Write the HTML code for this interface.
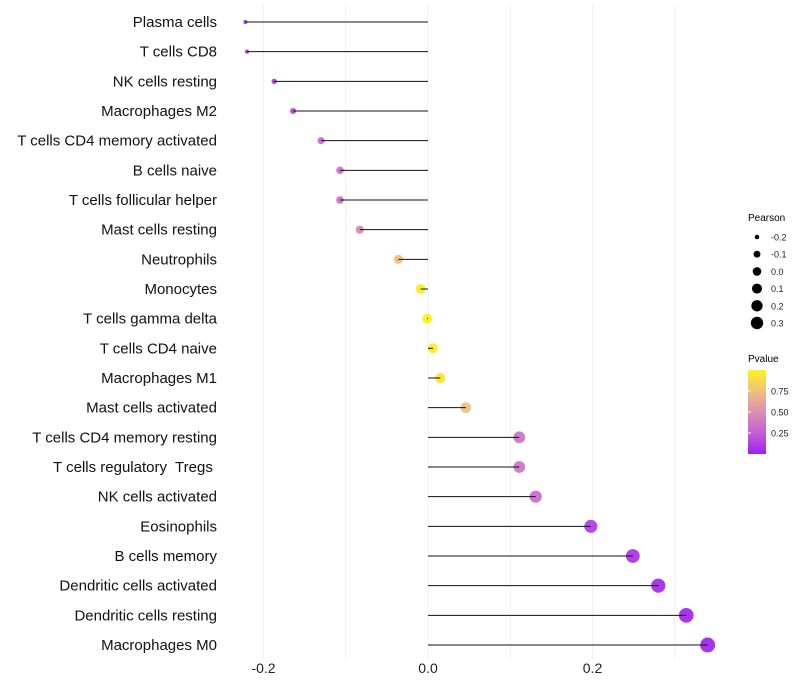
<!DOCTYPE html>
<html><head><meta charset="utf-8"><style>
body{margin:0;background:#fff;}
svg{display:block;font-family:"Liberation Sans",sans-serif;}
</style></head><body>
<svg id="chart" width="800" height="700">
<defs><linearGradient id="pg" x1="0" y1="1" x2="0" y2="0">
<stop offset="0" stop-color="#a020f0"/><stop offset="0.25" stop-color="#c45ed6"/>
<stop offset="0.5" stop-color="#dc8fb3"/><stop offset="0.75" stop-color="#efbf7c"/>
<stop offset="1" stop-color="#fff21e"/></linearGradient></defs>
<g id="grid"></g><g id="marks"></g><g id="labels"></g>
<g id="legend">
<text x="748" y="221" font-size="10">Pearson</text>
<text x="748" y="362" font-size="10">Pvalue</text>
<rect x="748" y="370" width="18" height="84" fill="url(#pg)"/>
</g>
</svg>
<script>
const categories=["Plasma cells","T cells CD8","NK cells resting","Macrophages M2","T cells CD4 memory activated","B cells naive","T cells follicular helper","Mast cells resting","Neutrophils","Monocytes","T cells gamma delta","T cells CD4 naive","Macrophages M1","Mast cells activated","T cells CD4 memory resting","T cells regulatory  Tregs ","NK cells activated","Eosinophils","B cells memory","Dendritic cells activated","Dendritic cells resting","Macrophages M0"];
const pearson=[-0.222,-0.220,-0.187,-0.164,-0.130,-0.107,-0.107,-0.083,-0.036,-0.009,-0.001,0.006,0.015,0.046,0.111,0.111,0.131,0.198,0.249,0.280,0.314,0.340];
const pvalues=[0.03,0.03,0.08,0.15,0.3,0.35,0.35,0.45,0.75,0.97,1.0,0.98,0.94,0.75,0.35,0.35,0.3,0.1,0.06,0.03,0.01,0.01];
const xTicks=[-0.2,0.0,0.2];
const xTickLabels=["-0.2","0.0","0.2"];
const sizeLegend=[-0.2,-0.1,0.0,0.1,0.2,0.3];
const sizeLegendLabels=["-0.2","-0.1","0.0","0.1","0.2","0.3"];
const pTicks=[0.25,0.5,0.75];
const pTickLabels=["0.25","0.50","0.75"];

const NS="http://www.w3.org/2000/svg";
const x=v=>428+v*822.5;
const y=i=>22+i*(623/21);
const r=v=>Math.sqrt(Math.max(3,24.5+92.5*v));
const lr=v=>Math.sqrt(Math.max(3,18.5+67*v));
const stops=[[160,32,240],[196,94,214],[220,143,179],[239,191,124],[255,240,10]];
function col(p){p=Math.max(0,Math.min(1,p));const t=p*4,i=Math.min(3,Math.floor(t)),f=t-i;const a=stops[i],b=stops[i+1];return `rgb(${a.map((c,k)=>Math.round(c+(b[k]-c)*f)).join(",")})`;}
function mk(tag,attrs,parent,text){const e=document.createElementNS(NS,tag);for(const k in attrs)e.setAttribute(k,attrs[k]);if(text!=null)e.textContent=text;parent.appendChild(e);return e;}
const grid=document.getElementById('grid'),marks=document.getElementById('marks'),labels=document.getElementById('labels'),legend=document.getElementById('legend');
[-0.2,-0.1,0,0.1,0.2,0.3].forEach(v=>{const l=mk('line',{x1:x(v),x2:x(v),y1:5,y2:660,stroke:'#f0f0f0','stroke-width':1},grid);

});
xTicks.forEach((v,i)=>{const t=mk('text',{x:x(v),y:673,'font-size':14,'text-anchor':'middle',fill:'#222'},labels,xTickLabels[i]);

});
categories.forEach((c,i)=>{
const t=mk('text',{x:217,y:y(i)+5,'font-size':15,'text-anchor':'end',fill:'#111','white-space':'pre',style:'white-space:pre'},labels,c);


const p=mk('circle',{cx:x(pearson[i]),cy:y(i),r:r(pearson[i]),fill:col(pvalues[i]),'fill-opacity':0.92},marks);


const s=mk('line',{x1:x(0),x2:x(pearson[i]),y1:y(i),y2:y(i),stroke:'#111','stroke-width':1},marks);


});
sizeLegend.forEach((v,i)=>{const cy=237+i*17.2;
const c=mk('circle',{cx:757,cy:cy,r:lr(v),fill:'#000'},legend);


const t=mk('text',{x:771,y:cy+3.5,'font-size':9,fill:'#222'},legend,sizeLegendLabels[i]);

});
pTicks.forEach((p,i)=>{const yy=454-p*84;
const l=mk('line',{x1:748,x2:751,y1:yy,y2:yy,stroke:'#fff'},legend);


const t=mk('text',{x:771,y:yy+3.5,'font-size':9,fill:'#222'},legend,pTickLabels[i]);

});
</script>
</body></html>
